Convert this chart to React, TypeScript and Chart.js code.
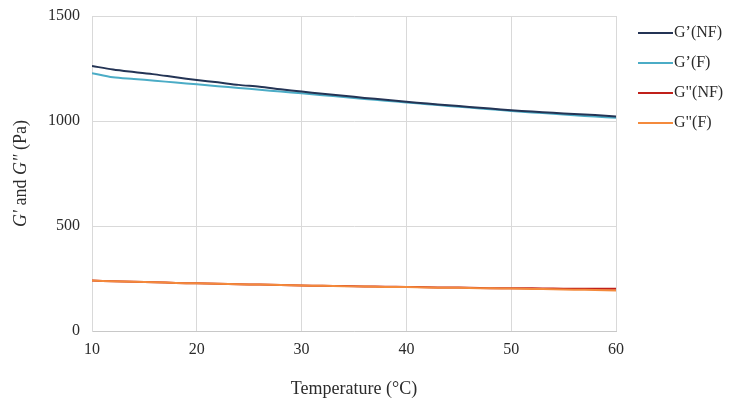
import React, { useEffect, useRef } from 'react';
import { Chart, registerables } from 'chart.js';

Chart.register(...registerables);

// temperature (°C), every 2 degrees
const temps = [10, 12, 14, 16, 18, 20, 22, 24, 26, 28, 30, 32, 34, 36, 38, 40, 42, 44, 46, 48, 50, 52, 54, 56, 58, 60];

// storage modulus G' (Pa)
const gPrimeNF = [1262, 1245, 1233, 1222, 1208, 1195, 1184, 1172, 1163, 1151, 1140, 1130, 1120, 1110, 1101, 1092, 1083, 1075, 1067, 1059, 1051, 1045, 1039, 1033, 1028, 1022];
const gPrimeF = [1228, 1208, 1200, 1192, 1183, 1175, 1166, 1157, 1149, 1140, 1132, 1123, 1114, 1105, 1097, 1088, 1080, 1072, 1064, 1056, 1048, 1041, 1034, 1027, 1021, 1015];

// loss modulus G" (Pa)
const gDoubleNF = [240, 237, 234, 232, 229, 227, 225, 223, 221, 219, 217, 215, 214, 212, 211, 210, 208, 207, 206, 204, 203, 203, 202, 201, 201, 201];
const gDoubleF = [240, 237, 234, 232, 229, 227, 225, 223, 221, 219, 217, 215, 213, 212, 210, 209, 207, 206, 205, 203, 202, 200, 199, 197, 195, 193];

const seriesNames = ['G\u2019(NF)', 'G\u2019(F)', 'G"(NF)', 'G"(F)'];
const seriesColors = ['#243455', '#4BACC6', '#C0201A', '#F48A3C'];
// G"(NF) goes underneath the orange line, like in the original
const seriesOrder = [0, 0, 1, 0];

const FONT = '"Liberation Serif", "Times New Roman", serif';
const TEXT = '#2b2b2b';

// legend drawn on the right, Excel style
const sideLegend = {
  id: 'sideLegend',
  afterDraw(chart: any) {
    const ctx = chart.ctx;
    ctx.save();
    ctx.font = `16px ${FONT}`;
    ctx.textBaseline = 'middle';
    chart.data.datasets.forEach((ds: any, i: number) => {
      const y = 33 + i * 30;
      ctx.strokeStyle = ds.borderColor;
      ctx.lineWidth = 2;
      ctx.beginPath();
      ctx.moveTo(638, y);
      ctx.lineTo(673, y);
      ctx.stroke();
      ctx.fillStyle = TEXT;
      ctx.fillText(ds.label, 674, y);
    });
    ctx.restore();
  }
};

// y axis title with italic G' / G"
const yTitle = {
  id: 'yTitle',
  afterDraw(chart: any) {
    const ctx = chart.ctx;
    const { top, bottom } = chart.chartArea;
    const parts: [string, boolean][] = [["G'", true], [' and ', false], ['G"', true], [' (Pa)', false]];
    ctx.save();
    ctx.translate(21, (top + bottom) / 2);
    ctx.rotate(-Math.PI / 2);
    ctx.textBaseline = 'middle';
    ctx.fillStyle = TEXT;
    let total = 0;
    parts.forEach(([t, it]) => {
      ctx.font = `${it ? 'italic ' : ''}18px ${FONT}`;
      total += ctx.measureText(t).width;
    });
    let x = -total / 2;
    parts.forEach(([t, it]) => {
      ctx.font = `${it ? 'italic ' : ''}18px ${FONT}`;
      ctx.fillText(t, x, 0);
      x += ctx.measureText(t).width;
    });
    ctx.restore();
  }
};

const App = () => {
  const chartRef = useRef<HTMLCanvasElement>(null);
  const chartInstance = useRef<Chart | null>(null);

  useEffect(() => {
    if (!chartRef.current) return;
    if (chartInstance.current) chartInstance.current.destroy();

    const series = [gPrimeNF, gPrimeF, gDoubleNF, gDoubleF];

    chartInstance.current = new Chart(chartRef.current, {
      type: 'line',
      data: {
        datasets: series.map((values, i) => ({
          label: seriesNames[i],
          data: temps.map((t, j) => ({ x: t, y: values[j] })),
          borderColor: seriesColors[i],
          backgroundColor: seriesColors[i],
          order: seriesOrder[i],
          borderWidth: 2,
          pointRadius: 0,
          tension: 0.3,
          fill: false
        }))
      },
      options: {
        animation: false,
        responsive: false,
        layout: { padding: { top: 16, right: 113, left: 0, bottom: 0 } },
        plugins: {
          legend: { display: false },
          tooltip: { enabled: false }
        },
        scales: {
          x: {
            type: 'linear',
            min: 10,
            max: 60,
            ticks: { stepSize: 10, padding: 9, color: TEXT, font: { family: FONT, size: 16 }, callback: (v: any) => String(v) },
            grid: { color: '#D9D9D9', drawTicks: false },
            border: { color: '#C8C8C8' },
            title: {
              display: true,
              text: 'Temperature (°C)',
              color: TEXT,
              font: { family: FONT, size: 18 },
              padding: { top: 0, bottom: 6 }
            },
            afterFit: (s: any) => { s.height = 75; }
          },
          y: {
            min: 0,
            max: 1500,
            ticks: { stepSize: 500, padding: 12, color: TEXT, font: { family: FONT, size: 16 }, callback: (v: any) => String(v) },
            grid: { color: '#D9D9D9', drawTicks: false },
            border: { color: '#D9D9D9' },
            afterFit: (s: any) => {
              s.width = 92;
              s.paddingTop = 0;
              s.paddingBottom = 0;
            }
          }
        }
      } as any,
      plugins: [sideLegend, yTitle]
    });

    return () => {
      if (chartInstance.current) chartInstance.current.destroy();
      chartInstance.current = null;
    };
  }, []);

  return (
    <div style={{ width: 729, height: 406, background: '#fff' }}>
      <style>{'body{margin:0}'}</style>
      <canvas ref={chartRef} width={729} height={406}></canvas>
    </div>
  );
};

export default App;
